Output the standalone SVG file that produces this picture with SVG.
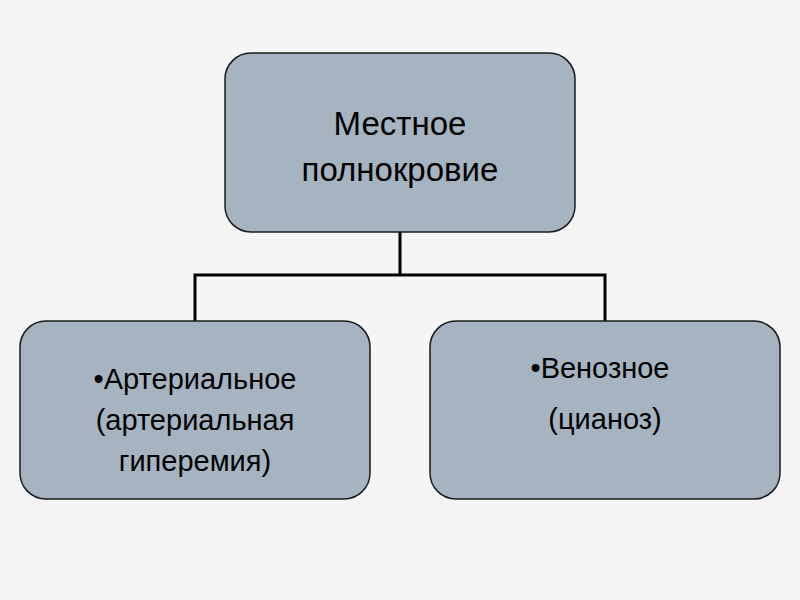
<svg xmlns="http://www.w3.org/2000/svg" width="800" height="600" viewBox="0 0 800 600">
<style>
.box{fill:#a6b3c1;stroke:#1a1a1a;stroke-width:1.5}
.t{font-family:"Liberation Sans",Arial,sans-serif;fill:#000;text-anchor:middle}
.c{fill:none;stroke:#000;stroke-width:3}
</style>
<rect width="800" height="600" fill="#f5f5f5"/>
<g id="connectors"><path class="c" d="M400 232V275H195V321M400 275H605V321"/></g>
<g id="top"><rect class="box" x="225" y="53" width="350" height="179" rx="26"/>
<text class="t" x="400" y="135" font-size="33">Местное</text>
<text class="t" x="400" y="181" font-size="33">полнокровие</text></g>
<g id="left"><rect class="box" x="20" y="321" width="350" height="178" rx="26"/>
<text class="t" x="195" y="389" font-size="29">•Артериальное</text>
<text class="t" x="195" y="430" font-size="29">(артериальная</text>
<text class="t" x="195" y="471" font-size="29">гиперемия)</text></g>
<g id="right"><rect class="box" x="430" y="321" width="350" height="178" rx="26"/>
<text class="t" x="600" y="378" font-size="29">•Венозное</text>
<text class="t" x="605" y="429" font-size="29">(цианоз)</text></g>
</svg>
